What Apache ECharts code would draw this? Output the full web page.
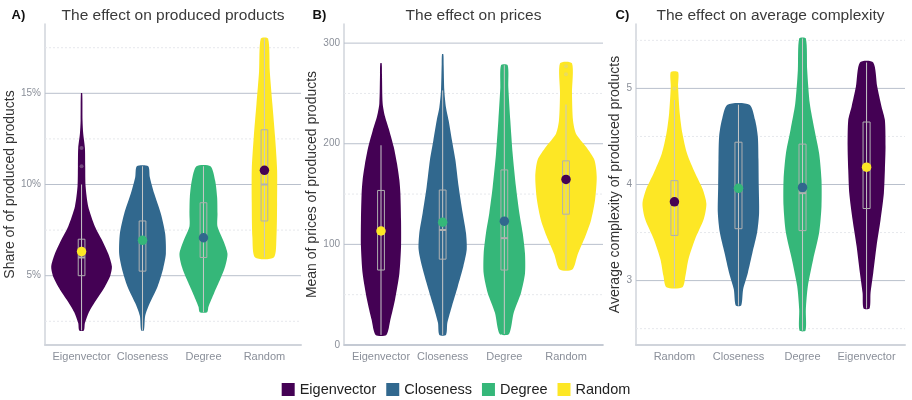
<!DOCTYPE html>
<html>
<head>
<meta charset="utf-8">
<script src="https://cdn.jsdelivr.net/npm/echarts@6/dist/echarts.min.js"></script>
<style>
html, body { margin: 0; padding: 0; background: #ffffff; }
#chart { width: 912px; height: 400px; }
</style>
</head>
<body>
<div id="chart"></div>
<script>
// ---- groups and palette (viridis) ----
const groups = ['Eigenvector', 'Closeness', 'Degree', 'Random'];
const groupColors = { Eigenvector: '#440154', Closeness: '#31688E', Degree: '#35B779', Random: '#FDE725' };
const meanColors = { Eigenvector: '#FDE725', Closeness: '#35B779', Degree: '#31688E', Random: '#440154' };

// ---- A) share of produced products (%) ----
const prodOrder = ['Eigenvector', 'Closeness', 'Degree', 'Random'];
const prodTicks = [5, 10, 15];
const prodMinorTicks = [2.5, 7.5, 12.5, 17.5];
// density profiles: [value, half width in category units]
const prodDensityEigenvector = [[2.0,0.038],[2.4,0.055],[3.0,0.12],[3.7,0.246],[4.4,0.383],[5.0,0.471],[5.5,0.498],[6.2,0.438],[7.0,0.328],[7.7,0.219],[8.8,0.109],[9.9,0.066],[11.0,0.06],[12.0,0.055],[12.8,0.027],[13.5,0.016],[15.0,0.011]];
const prodDensityCloseness = [[2.0,0.022],[2.8,0.044],[3.5,0.12],[4.4,0.246],[5.4,0.339],[6.2,0.383],[7.3,0.372],[8.4,0.301],[9.5,0.192],[10.4,0.12],[11.0,0.093]];
const prodDensityDegree = [[3.0,0.06],[3.3,0.082],[4.05,0.175],[4.8,0.274],[5.5,0.356],[6.2,0.394],[6.9,0.328],[7.7,0.23],[8.4,0.23],[9.3,0.224],[10.2,0.192],[11.0,0.115]];
const prodDensityRandom = [[6.0,0.153],[7.1,0.197],[8.95,0.208],[10.8,0.208],[12.6,0.175],[14.4,0.131],[16.2,0.088],[18.0,0.06]];
// box stats: [min, q1, median, q3, max]
const prodBoxes = [[2, 5, 6, 7, 10], [2, 5.25, 7, 8, 11], [3, 6, 7, 9, 11], [6, 8, 10, 13, 18]];
const prodMeans = [6.32, 6.94, 7.08, 10.78];
const prodOutliers = [['Eigenvector', 11], ['Eigenvector', 12]];

// ---- B) mean price of produced products ----
const priceOrder = ['Eigenvector', 'Closeness', 'Degree', 'Random'];
const priceTicks = [0, 100, 200, 300];
const priceMinorTicks = [50, 150, 250];
const priceDensityEigenvector = [[10,0.087],[25,0.152],[45,0.227],[71,0.298],[98,0.325],[124,0.325],[151,0.314],[164,0.298],[180,0.26],[197,0.206],[213,0.135],[227,0.065],[240,0.027],[269,0.016],[280,0.011]];
const priceDensityCloseness = [[10,0.054],[22,0.076],[39,0.152],[58,0.244],[78,0.335],[95,0.39],[111,0.379],[131,0.325],[157,0.26],[184,0.206],[203,0.152],[223,0.097],[236,0.054],[253,0.027],[279,0.016],[289,0.011]];
const priceDensityDegree = [[11,0.076],[32,0.152],[52,0.271],[71,0.335],[91,0.335],[111,0.298],[131,0.244],[157,0.189],[190,0.135],[223,0.097],[256,0.065],[278,0.054]];
const priceDensityRandom = [[75,0.103],[90,0.189],[108,0.314],[124,0.406],[144,0.471],[167,0.498],[184,0.46],[197,0.325],[210,0.162],[223,0.114],[250,0.097],[280,0.097]];
const priceBoxes = [[10, 74.5, 112, 153.6, 198.5], [10, 85.3, 114.3, 154, 253], [11, 74.5, 106.2, 174, 278], [75, 130, 163, 183, 239]];
const priceMeans = [113.3, 122, 123, 164.5];
const priceOutliers = [['Random', 269], ['Random', 277]];

// ---- C) average complexity of produced products ----
const complexOrder = ['Random', 'Closeness', 'Degree', 'Eigenvector'];
const complexTicks = [3, 4, 5];
const complexMinorTicks = [2.5, 3.5, 4.5, 5.5];
const complexDensityRandom = [[2.93,0.125],[3.05,0.172],[3.22,0.218],[3.43,0.322],[3.64,0.458],[3.80,0.499],[3.95,0.442],[4.12,0.322],[4.32,0.198],[4.53,0.125],[4.74,0.083],[5.02,0.057],[5.17,0.057]];
const complexDensityCloseness = [[2.74,0.042],[2.91,0.073],[3.08,0.146],[3.29,0.218],[3.50,0.291],[3.70,0.322],[3.98,0.317],[4.26,0.312],[4.50,0.302],[4.67,0.26],[4.83,0.172]];
const complexDensityDegree = [[2.48,0.047],[2.70,0.052],[2.94,0.083],[3.22,0.166],[3.50,0.26],[3.77,0.296],[4.05,0.296],[4.32,0.26],[4.57,0.187],[4.84,0.114],[5.19,0.073],[5.52,0.052]];
const complexDensityEigenvector = [[2.71,0.047],[2.87,0.062],[3.08,0.104],[3.36,0.156],[3.63,0.218],[3.91,0.27],[4.15,0.286],[4.39,0.296],[4.67,0.286],[4.81,0.234],[5.02,0.166],[5.27,0.104]];
const complexBoxes = [[2.93, 3.47, 3.8, 4.04, 4.88], [2.74, 3.54, 3.95, 4.44, 4.83], [2.48, 3.52, 3.91, 4.42, 5.52], [2.71, 3.75, 4.15, 4.65, 5.27]];
const complexMeans = [3.82, 3.96, 3.97, 4.18];
const complexOutliers = [['Random', 5.0]];

// ---- layout ----
const X_MIN = 0.4, X_MAX = 4.6, BOX_HALF = 0.055;
const gridTop = 24, gridHeight = 321;
const FONT = 'Liberation Sans, Arial, sans-serif';
const panels = [
  { left: 45,  width: 256, yMin: 1.2,  yMax: 18.8, fmt: v => v + '%', name: 'Share of of produced products', nameGap: 22,
    order: prodOrder, dens: [prodDensityEigenvector, prodDensityCloseness, prodDensityDegree, prodDensityRandom],
    boxes: prodBoxes, means: prodMeans, outliers: prodOutliers, ticks: prodTicks, minor: prodMinorTicks,
    tag: 'A)', tagX: 11.5, title: 'The effect on produced products' },
  { left: 344, width: 259, yMin: 0,    yMax: 319,  fmt: v => String(v), name: 'Mean of prices of produced products', nameGap: 18,
    order: priceOrder, dens: [priceDensityEigenvector, priceDensityCloseness, priceDensityDegree, priceDensityRandom],
    boxes: priceBoxes, means: priceMeans, outliers: priceOutliers, ticks: priceTicks, minor: priceMinorTicks,
    tag: 'B)', tagX: 312.5, title: 'The effect on prices' },
  { left: 636, width: 269, yMin: 2.33, yMax: 5.67, fmt: v => String(v), name: 'Average complexity of produced products', nameGap: 9,
    order: complexOrder, dens: [complexDensityRandom, complexDensityCloseness, complexDensityDegree, complexDensityEigenvector],
    boxes: complexBoxes, means: complexMeans, outliers: complexOutliers, ticks: complexTicks, minor: complexMinorTicks,
    tag: 'C)', tagX: 615.5, title: 'The effect on average complexity' }
];

const labelColor = '#8a8f99';
const axisColor = '#d0d4db';

const grids = [], xAxes = [], yAxes = [], series = [], graphics = [];

panels.forEach((p, k) => {
  grids.push({ left: p.left, top: gridTop, width: p.width, height: gridHeight });
  xAxes.push({
    type: 'value', gridIndex: k, min: X_MIN, max: X_MAX,
    axisLine: { show: true, onZero: false, lineStyle: { color: axisColor, width: 2 } },
    axisTick: { show: false }, splitLine: { show: false },
    axisLabel: { customValues: [1, 2, 3, 4], formatter: v => p.order[Math.round(v) - 1],
      color: labelColor, fontSize: 11, margin: 6, fontFamily: FONT }
  });
  yAxes.push({
    type: 'value', gridIndex: k, min: p.yMin, max: p.yMax,
    name: p.name, nameLocation: 'middle', nameGap: p.nameGap,
    nameTextStyle: { color: '#333333', fontSize: 14, fontFamily: FONT },
    axisLine: { show: true, onZero: false, lineStyle: { color: axisColor, width: 1.5 } },
    axisTick: { show: false }, splitLine: { show: false },
    axisLabel: { customValues: p.ticks, formatter: p.fmt, color: labelColor, fontSize: 10, margin: 4, fontFamily: FONT }
  });

  const ax = { xAxisIndex: k, yAxisIndex: k };

  // horizontal grid lines
  series.push({
    type: 'custom', ...ax, silent: true, z: 1,
    data: p.ticks.map(v => [v, 1]).concat(p.minor.map(v => [v, 0])),
    renderItem(params, api) {
      const v = api.value(0), major = api.value(1) === 1;
      const a = api.coord([X_MIN, v]), b = api.coord([X_MAX, v]);
      return { type: 'line', shape: { x1: a[0], y1: a[1], x2: b[0], y2: b[1] },
        style: major ? { stroke: '#b9c0cc', lineWidth: 1 } : { stroke: '#e6e8ec', lineWidth: 1, lineDash: [2, 2] } };
    }
  });

  // violins
  p.order.forEach((g, i) => {
    const pos = i + 1, prof = p.dens[i];
    series.push({
      type: 'custom', name: g, ...ax, z: 2, silent: true,
      itemStyle: { color: groupColors[g] },
      data: prof.map(d => [pos, d[0], d[1]]),
      renderItem(params, api) {
        if (params.dataIndex !== 0) return null;
        const right = prof.map(d => api.coord([pos + d[1], d[0]]));
        const left = prof.slice().reverse().map(d => api.coord([pos - d[1], d[0]]));
        return { type: 'polygon', shape: { points: right.concat(left), smooth: 0.25 },
          style: { fill: groupColors[g] } };
      }
    });
  });

  // box plots
  series.push({
    type: 'custom', ...ax, z: 3, silent: true,
    data: p.boxes.map((b, i) => [i + 1].concat(b)),
    renderItem(params, api) {
      const x = api.value(0);
      const mn = api.value(1), q1 = api.value(2), md = api.value(3), q3 = api.value(4), mx = api.value(5);
      const top = api.coord([x, mx]), bot = api.coord([x, mn]);
      const bl = api.coord([x - BOX_HALF, q1]), tr = api.coord([x + BOX_HALF, q3]);
      const ml = api.coord([x - BOX_HALF, md]), mr = api.coord([x + BOX_HALF, md]);
      return { type: 'group', children: [
        { type: 'line', shape: { x1: top[0], y1: top[1], x2: bot[0], y2: bot[1] }, style: { stroke: '#c8c8c8', lineWidth: 1 } },
        { type: 'rect', shape: { x: bl[0], y: tr[1], width: tr[0] - bl[0], height: bl[1] - tr[1] },
          style: { fill: 'none', stroke: '#b0b0b0', lineWidth: 1 } },
        { type: 'line', shape: { x1: ml[0], y1: ml[1], x2: mr[0], y2: mr[1] }, style: { stroke: '#b0b0b0', lineWidth: 2 } }
      ] };
    }
  });

  // outlying observations
  series.push({
    type: 'scatter', ...ax, z: 4, silent: true, symbolSize: 4,
    itemStyle: { color: 'rgba(200,200,200,0.35)', opacity: 1 },
    data: p.outliers.map(o => [p.order.indexOf(o[0]) + 1, o[1]])
  });

  // group means
  series.push({
    type: 'scatter', ...ax, z: 5, silent: true, symbolSize: 9.5,
    itemStyle: { opacity: 1 },
    data: p.means.map((m, i) => ({ value: [i + 1, m], itemStyle: { color: meanColors[p.order[i]], opacity: 1 } }))
  });

  // panel tag and title
  graphics.push({ type: 'text', x: p.tagX, y: 15.5,
    style: { text: p.tag, fill: '#111111', font: 'bold 13px ' + FONT, verticalAlign: 'middle', align: 'left' } });
  graphics.push({ type: 'text', x: p.left + p.width / 2, y: 16,
    style: { text: p.title, fill: '#3a3a3a', font: '15.5px ' + FONT, verticalAlign: 'middle', align: 'center' } });
});

const chart = echarts.init(document.getElementById('chart'), null, { renderer: 'canvas' });
chart.setOption({
  backgroundColor: '#ffffff',
  animation: false,
  grid: grids,
  xAxis: xAxes,
  yAxis: yAxes,
  legend: {
    data: groups, left: 'center', top: 377,
    icon: 'rect', itemWidth: 13, itemHeight: 13, itemGap: 10,
    textStyle: { color: '#222222', fontSize: 14.5, fontFamily: FONT },
    selectedMode: false
  },
  graphic: graphics,
  series: series
});
</script>
</body>
</html>
